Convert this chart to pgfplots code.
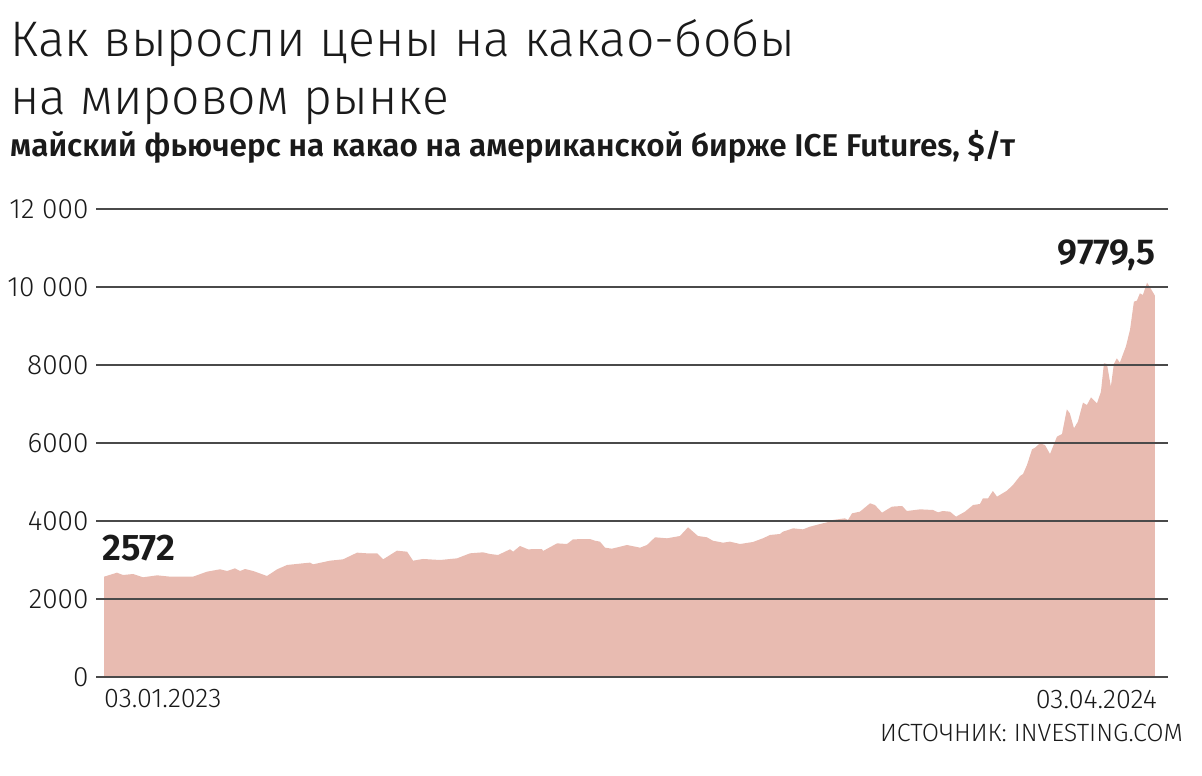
\documentclass[border=0pt]{standalone}
\usepackage{pgfplots}
\pgfplotsset{compat=1.18}
\usepackage{fontspec}
\setmainfont{Fira Sans Light}[BoldFont=Fira Sans SemiBold]
\newfontfamily\boldf{Fira Sans SemiBold}
\definecolor{areac}{HTML}{E8BBB1}
\definecolor{gridc}{HTML}{4A4A4A}
\definecolor{txt}{HTML}{1A1A1A}
\begin{document}
\begin{tikzpicture}[x=1pt,y=1pt]
\path[use as bounding box] (0,0) rectangle (1202,776);
\begin{axis}[
  at={(96pt,99pt)}, anchor=south west,
  scale only axis, width=1072pt, height=468pt,
  xmin=-3.5, xmax=461.7, ymin=0, ymax=12000,
  axis line style={draw=none},
  xtick=\empty,
  scaled y ticks=false,
  ytick={0,2000,4000,6000,8000,10000,12000},
  yticklabels={0,2000,4000,6000,8000,10 000,12 000},
  major tick length=0pt,
  ymajorgrids, grid style={gridc, line width=1.6pt},
  axis on top,
  yticklabel style={font=\fontsize{28}{28}\selectfont, text=txt, xshift=-4pt},
  /pgf/number format/assume math mode=true,
  clip=false,
]
\addplot[fill=areac, draw=none] table {
0 2572
5.6 2675
8.2 2615
12.6 2641
16.9 2556
23 2607
28.6 2573
38.6 2573
44.7 2701
50.3 2761
53.4 2718
56.8 2786
59 2718
61.2 2769
64.7 2718
70.7 2590
75.1 2761
79.4 2872
86.3 2915
89.4 2932
90.7 2889
98.1 2983
103.7 3017
109.8 3188
114.1 3171
118.5 3171
121.1 3017
127.1 3239
131.5 3213
134.1 2983
138.4 3026
145.8 3000
153.2 3043
158.8 3171
164.4 3197
167.5 3154
171 3128
174 3214
176.2 3274
177.5 3214
180.5 3359
184 3274
190 3282
190.5 3231
196.6 3427
200.9 3410
203.5 3530
210.9 3538
213 3495
215.2 3470
217.4 3316
220.4 3290
226.9 3385
232.6 3316
235.6 3385
239.1 3582
244.3 3556
249.9 3615
253.4 3838
255.6 3726
257.7 3615
261.6 3582
264.2 3495
268.6 3444
271.6 3470
276 3410
281.6 3462
285.9 3556
289 3641
293.3 3667
294.6 3726
299 3812
303.3 3786
306.3 3854
310.7 3923
315 3983
316.3 4026
321.5 4068
322.8 4026
324.6 4197
328 4239
332.4 4453
334.5 4410
337.6 4214
341.9 4368
346.3 4385
348.4 4256
354.1 4299
359.7 4282
361.9 4222
364 4256
367.1 4239
369.7 4111
373.6 4239
377.1 4410
380.1 4436
381.4 4581
383.6 4581
385.7 4769
387.5 4624
391.8 4777
394.4 4923
397.5 5154
398.8 5205
400.5 5436
402.7 5838
404 5880
406.1 5991
408.3 5949
410.5 5718
413.5 6162
415.7 6231
417.8 6864
419.1 6761
420.9 6376
422.6 6547
424.8 7034
426.5 6974
428.3 7171
430.9 7017
432.6 7316
433.9 8043
435.2 8026
436.9 7444
438.2 8026
439.5 8171
440.8 8060
443.4 8470
445.2 8897
446.9 9624
448.2 9650
449.5 9838
450.8 9795
452.6 10111
453.9 9991
456 9779.5
} \closedcycle;
\end{axis}
\node[anchor=base west, inner sep=0, text=txt, font=\fontsize{50}{50}\selectfont] at (10,719) {Как выросли цены на какао-бобы};
\node[anchor=base west, inner sep=0, text=txt, font=\fontsize{50}{50}\selectfont] at (10,661) {на мировом рынке};
\node[anchor=base west, inner sep=0, text=txt, font=\boldf\fontsize{31.5}{31.5}\selectfont] at (10,619) {майский фьючерс на какао на американской бирже ICE Futures, \$/т};
\node[anchor=base west, inner sep=0, text=txt, font=\boldf\fontsize{37}{37}\selectfont] at (102,215) {2572};
\node[anchor=base east, inner sep=0, text=txt, font=\boldf\fontsize{36}{36}\selectfont] at (1156,511) {9779,5};
\node[anchor=base west, inner sep=0, text=txt, font=\fontsize{27}{27}\selectfont] at (104,68) {03.01.2023};
\node[anchor=base east, inner sep=0, text=txt, font=\fontsize{27}{27}\selectfont] at (1157,67) {03.04.2024};
\node[anchor=base east, inner sep=0, text=txt, font=\fontsize{25}{25}\selectfont] at (1183,34) {ИСТОЧНИК: INVESTING.COM};
\end{tikzpicture}
\end{document}
